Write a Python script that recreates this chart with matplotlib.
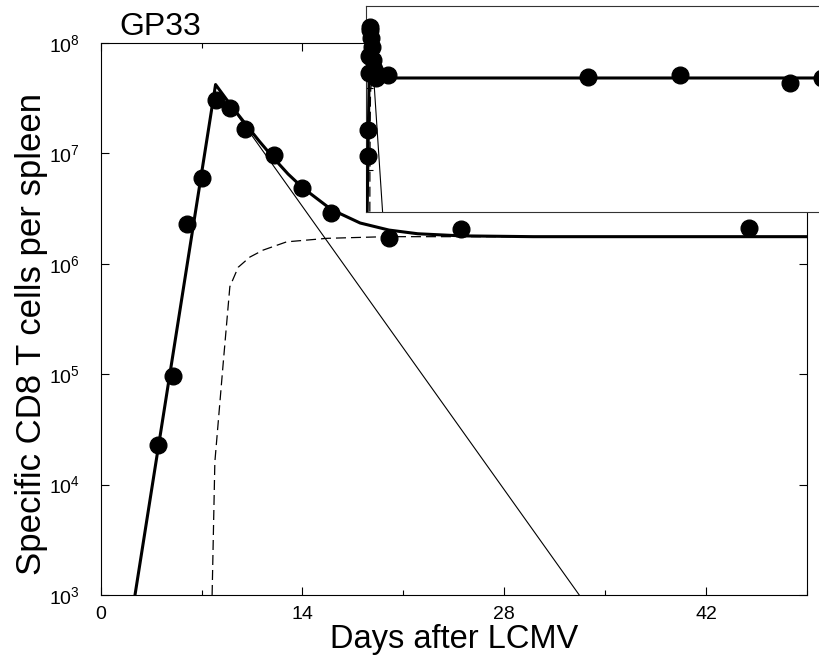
import matplotlib
matplotlib.use("Agg")
import matplotlib.pyplot as plt
from matplotlib.ticker import FixedLocator, NullLocator

plt.rcParams['font.family'] = ['Liberation Sans', 'DejaVu Sans']
plt.rcParams['mathtext.fontset'] = 'custom'
plt.rcParams['mathtext.rm'] = 'Liberation Sans'
plt.rcParams['mathtext.it'] = 'Liberation Sans'
plt.rcParams['mathtext.default'] = 'regular'

# measured counts (days after infection, cells per spleen)
days = [4, 5, 6, 7, 8, 9, 10, 12, 14, 16, 20, 25, 45]
counts = [2.3e4, 9.6e4, 2.3e6, 6.0e6, 3.05e7, 2.6e7, 1.66e7, 9.7e6, 4.9e6, 2.87e6, 1.72e6, 2.07e6, 2.1e6]

# late memory points, only visible in the inset
late_days = [444, 628, 848, 912]
late_counts = [1.86e6, 2.08e6, 1.33e6, 1.76e6]

# model curves
total_days = [2.38, 7.97, 9, 10, 11, 12, 13, 14, 16, 18, 20, 22, 25, 30, 1000]
total_counts = [1e3, 4.2e7, 2.76e7, 1.88e7, 1.29e7, 9.05e6, 6.5e6, 4.9e6, 3.1e6, 2.34e6,
                2.02e6, 1.87e6, 1.79e6, 1.76e6, 1.76e6]
effector_days = [7.97, 33.2]
effector_counts = [4.2e7, 1e3]
memory_days = [7.73, 7.92, 8.5, 8.96, 9.54, 10.35, 11.27, 12.9, 15.7, 19.8, 25, 1000]
memory_counts = [1e3, 1.6e4, 1.26e5, 6.2e5, 9.3e5, 1.15e6, 1.33e6, 1.58e6, 1.70e6, 1.76e6,
                 1.76e6, 1.76e6]

xticks = [0, 14, 28, 42]
xminor = [7, 21, 35, 49]
yticks = [1e3, 1e4, 1e5, 1e6, 1e7, 1e8]
ytick_labels = ['$10^{3}$', '$10^{4}$', '$10^{5}$', '$10^{6}$', '$10^{7}$', '$10^{8}$']


def draw_curves(ax):
    ax.plot(total_days, total_counts, color='black', linewidth=2.2, zorder=3)
    ax.plot(effector_days, effector_counts, color='black', linewidth=0.8, zorder=2)
    ax.plot(memory_days, memory_counts, color='black', linewidth=0.9,
            linestyle=(0, (8, 4)), zorder=2)


fig = plt.figure(figsize=(8.2, 6.57), dpi=100)

# main panel
ax = fig.add_axes([0.1228, 0.0944, 0.8613, 0.8402])
draw_curves(ax)
ax.plot(days, counts, 'o', color='black', markersize=12, zorder=4)
ax.set_yscale('log')
ax.set_xlim(0, 49)
ax.set_ylim(1e3, 1e8)
ax.xaxis.set_major_locator(FixedLocator(xticks))
ax.xaxis.set_minor_locator(FixedLocator(xminor))
ax.yaxis.set_major_locator(FixedLocator(yticks))
ax.yaxis.set_minor_locator(NullLocator())
ax.set_xticklabels([str(t) for t in xticks])
ax.set_yticklabels(ytick_labels)
ax.tick_params(which='both', direction='in', top=True, right=True, labelsize=14)
ax.tick_params(which='major', length=6, width=0.8)
ax.tick_params(which='minor', length=3.5, width=0.8)
ax.tick_params(axis='x', pad=8)
ax.tick_params(axis='y', pad=15)
for s in ax.spines.values():
    s.set_linewidth(0.8)

fig.text(160 / 820, 1 - 35 / 657, 'GP33', fontsize=23, ha='center', va='baseline')
fig.text(454 / 820, 1 - 648 / 657, 'Days after LCMV', fontsize=23.5, ha='center', va='baseline')
fig.text(32 / 820, 1 - 334 / 657, 'Specific CD8 T cells per spleen', fontsize=25,
         rotation=90, ha='center', va='center')

# inset with the long time scale (runs past the right edge)
ins = fig.add_axes([0.4463, 0.6778, 0.6098, 0.3135])
ins.set_facecolor('white')
draw_curves(ins)
ins.plot(days + late_days, counts + late_counts, 'o', color='black', markersize=12,
         zorder=4, clip_on=False)
ins.set_yscale('log')
ins.set_xlim(0, 1000)
ins.set_ylim(1e3, 1e8)
ins.set_xticks([])
ins.yaxis.set_major_locator(FixedLocator([1e4, 1e5, 1e6, 1e7]))
ins.yaxis.set_minor_locator(NullLocator())
ins.tick_params(axis='y', direction='in', left=True, right=True, labelleft=False,
                length=5, width=0.8)
for s in ins.spines.values():
    s.set_linewidth(0.8)
    s.set_color('#333333')

fig.savefig('out.png', dpi=100)
